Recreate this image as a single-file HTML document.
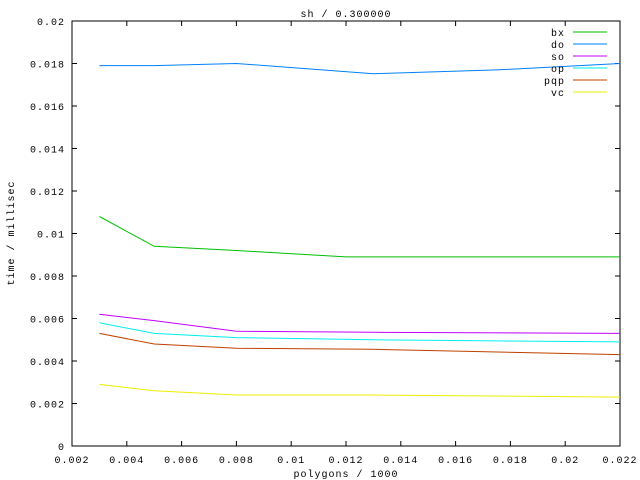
<!DOCTYPE html>
<html><head><meta charset="utf-8"><style>
html,body{margin:0;padding:0;background:#fff;}
svg{display:block;font-family:"Liberation Mono","DejaVu Sans Mono",monospace;font-size:10px;letter-spacing:1px;}
</style></head><body>
<svg id="s" width="640" height="480" xmlns="http://www.w3.org/2000/svg">
<rect width="640" height="480" fill="#fff"/>
<g id="g"></g>
</svg>
<script>
var g=document.getElementById('g');var ns='http://www.w3.org/2000/svg';
function X(v){return 72+(v-0.002)/0.001*27.4;}
function Y(v){return 446-v/0.001*21.25;}
function el(t,a,txt){var e=document.createElementNS(ns,t);for(var k in a)e.setAttribute(k,a[k]);if(txt!=null)e.textContent=txt;g.appendChild(e);return e;}
el('rect',{x:72,y:21,width:548,height:425,fill:'none',stroke:'#000','stroke-width':1});
var xl=['0.002','0.004','0.006','0.008','0.01','0.012','0.014','0.016','0.018','0.02','0.022'];
for(var i=0;i<=10;i++){var x=72+i*54.8;
el('line',{x1:x,y1:446,x2:x,y2:441,stroke:'#000'});el('line',{x1:x,y1:21,x2:x,y2:26,stroke:'#000'});
el('text',{x:x,y:463,'text-anchor':'middle'},xl[i]);}
var yl=['0','0.002','0.004','0.006','0.008','0.01','0.012','0.014','0.016','0.018','0.02'];
for(var i=0;i<=10;i++){var y=446-i*42.5;
el('line',{x1:72,y1:y,x2:77,y2:y,stroke:'#000'});el('line',{x1:620,y1:y,x2:615,y2:y,stroke:'#000'});
el('text',{x:65,y:y+4,'text-anchor':'end'},yl[i]);}
el('text',{x:346,y:17,'text-anchor':'middle'},'sh / 0.300000');
el('text',{x:346,y:477,'text-anchor':'middle'},'polygons / 1000');
el('text',{x:14,y:233,'text-anchor':'middle',transform:'rotate(-90 14 233)'},'time / millisec');
var S=[
['bx','#00c000',[[0.003,0.0108],[0.005,0.0094],[0.008,0.0092],[0.012,0.0089],[0.022,0.0089]]],
['do','#0080ff',[[0.003,0.0179],[0.005,0.0179],[0.008,0.0180],[0.013,0.01752],[0.0175,0.0177],[0.022,0.0180]]],
['so','#c000ff',[[0.003,0.0062],[0.005,0.0059],[0.008,0.0054],[0.013,0.00535],[0.022,0.0053]]],
['op','#00eeee',[[0.003,0.0058],[0.005,0.0053],[0.008,0.0051],[0.013,0.0050],[0.022,0.0049]]],
['pqp','#c04000',[[0.003,0.0053],[0.005,0.0048],[0.008,0.0046],[0.013,0.00455],[0.022,0.0043]]],
['vc','#eeee00',[[0.003,0.0029],[0.005,0.0026],[0.008,0.0024],[0.013,0.0024],[0.022,0.0023]]]];
S.forEach(function(s,i){
var p=s[2].map(function(d){return X(d[0]).toFixed(1)+','+Y(d[1]).toFixed(1);}).join(' ');
el('polyline',{points:p,fill:'none',stroke:s[1],'stroke-width':1});
var ly=32+i*12;
el('text',{x:565,y:ly+4,'text-anchor':'end'},s[0]);
el('line',{x1:573,y1:ly,x2:607,y2:ly,stroke:s[1]});
});
</script>
</body></html>
